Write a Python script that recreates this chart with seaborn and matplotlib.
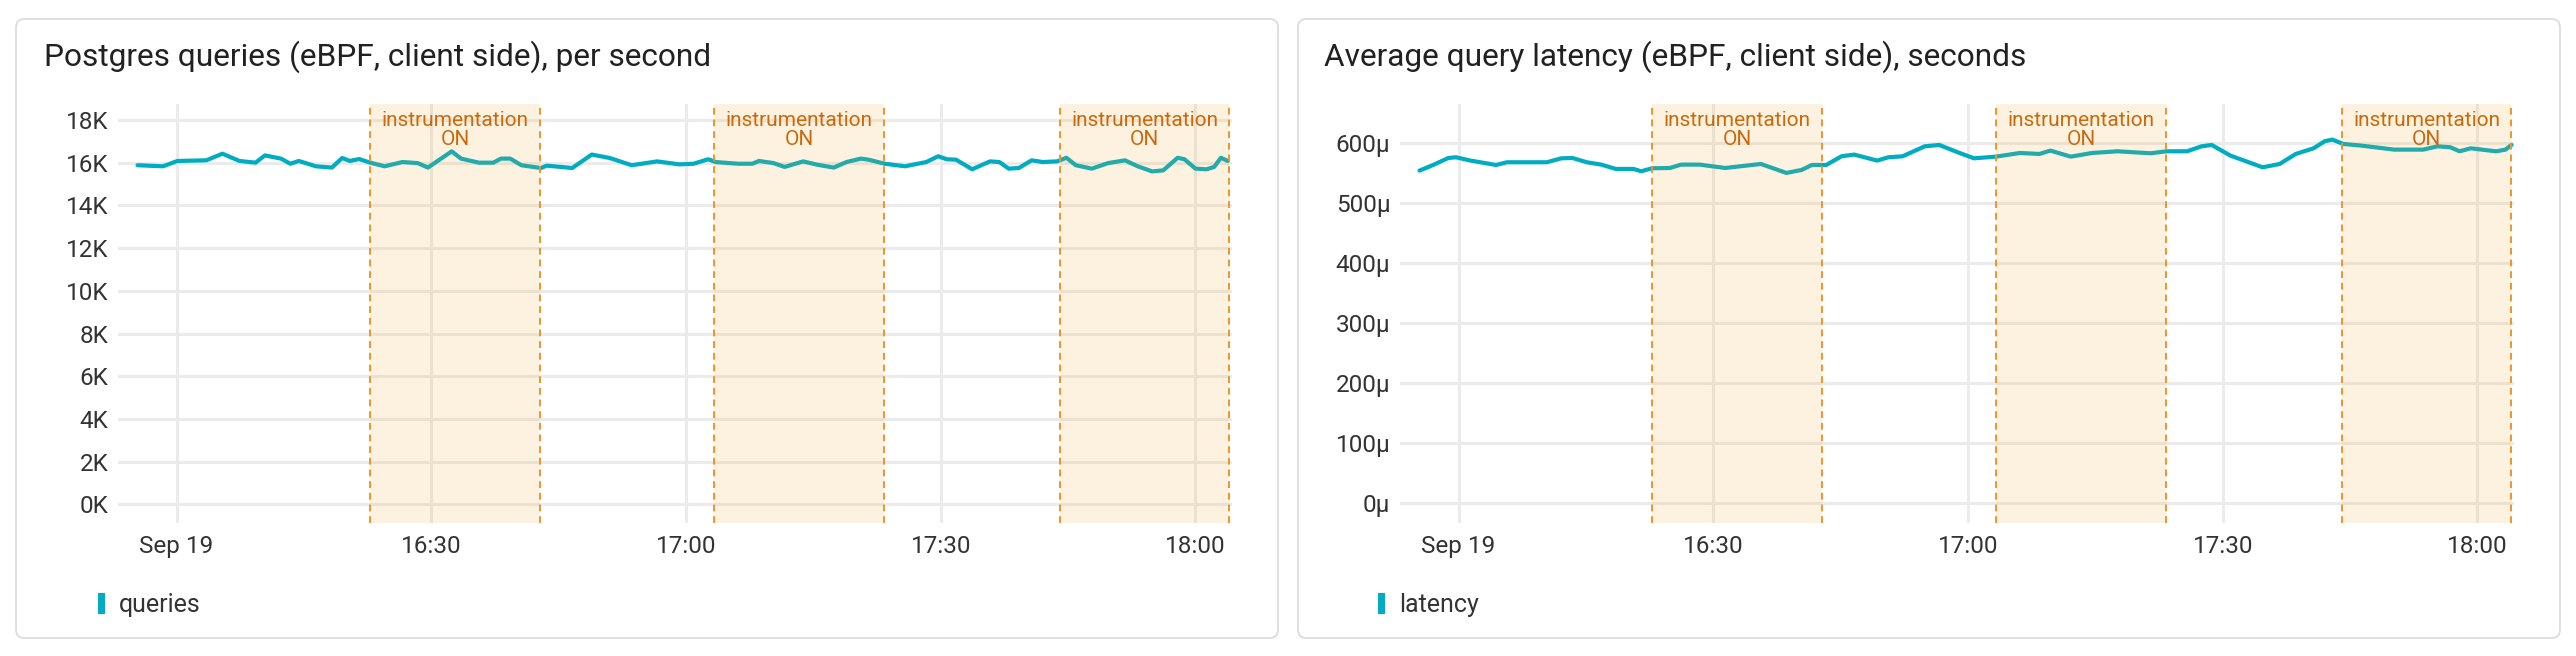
import matplotlib
matplotlib.use("Agg")
import matplotlib.pyplot as plt
import matplotlib.dates as mdates
import matplotlib.transforms as mtransforms
from matplotlib.patches import FancyBboxPatch, Patch
from matplotlib.ticker import FuncFormatter
import pandas as pd
import seaborn as sns

# minutes after 16:00 (Sep 19) and queries per second
q_minutes = [-4.6, -1.6, 0.1, 3.5, 5.4, 7.4, 9.3, 10.4, 12.3, 13.4, 14.4, 16.4, 18.3, 19.5,
             20.4, 21.5, 22.8, 24.5, 26.6, 28.4, 29.6, 32.4, 33.5, 35.6, 37.3, 38.2, 39.3,
             40.6, 42.9, 43.6, 46.6, 48.9, 51.0, 53.6, 56.6, 59.2, 60.9, 62.6, 63.5, 66.1,
             67.8, 68.6, 70.3, 71.6, 73.8, 75.5, 77.4, 78.9, 80.6, 81.5, 83.4, 85.8, 88.3,
             89.7, 90.7, 91.8, 93.7, 95.8, 96.9, 98.0, 99.2, 100.7, 102.0, 103.7, 104.8,
             105.9, 107.8, 109.7, 111.7, 113.2, 114.9, 116.2, 117.9, 118.7, 120.0, 121.3,
             122.2, 123.0, 123.8]
q_values = [15880, 15830, 16080, 16110, 16420, 16080, 16000, 16340, 16190, 15950, 16080,
            15830, 15770, 16220, 16080, 16170, 16000, 15830, 16030, 15980, 15770, 16530,
            16190, 16000, 16000, 16190, 16190, 15880, 15750, 15860, 15750, 16380, 16220,
            15880, 16060, 15920, 15950, 16160, 16030, 15950, 15950, 16080, 15980, 15800,
            16060, 15900, 15770, 16030, 16190, 16140, 15950, 15830, 16030, 16300, 16160,
            16140, 15690, 16060, 16030, 15720, 15750, 16110, 16030, 16060, 16230, 15880,
            15720, 15980, 16110, 15830, 15590, 15640, 16230, 16160, 15720, 15690, 15800,
            16230, 16080]

# minutes after 16:00 and average latency in microseconds
lat_minutes = [-4.6, -2.9, -1.2, -0.3, 1.4, 4.4, 5.7, 10.4, 12.1, 13.4, 15.1, 16.8, 18.5,
               20.6, 21.5, 22.8, 24.9, 26.2, 28.4, 31.4, 35.6, 38.6, 40.4, 41.6, 43.3, 45.1,
               46.6, 49.3, 50.6, 52.3, 54.9, 56.6, 58.8, 60.7, 63.3, 66.1, 68.4, 69.7, 72.1,
               74.6, 77.6, 81.5, 83.4, 85.8, 87.5, 88.7, 90.9, 94.7, 96.7, 98.6, 100.7,
               102.0, 102.9, 104.2, 106.3, 110.2, 113.6, 115.3, 116.8, 117.9, 119.2, 120.5,
               122.2, 123.3, 124.0]
lat_values = [553.9, 563.9, 575.0, 576.1, 570.6, 563.3, 567.8, 567.8, 574.4, 575.0, 567.8,
              563.9, 556.7, 556.7, 552.8, 557.8, 558.3, 563.9, 563.9, 558.3, 565.0, 550.0,
              555.0, 563.3, 563.3, 577.8, 580.6, 570.6, 576.1, 577.8, 594.4, 596.7, 584.4,
              574.4, 577.2, 583.3, 581.7, 587.2, 577.2, 583.3, 586.1, 582.8, 586.1, 586.1,
              594.4, 596.7, 578.9, 559.4, 565.0, 581.7, 591.1, 602.8, 605.6, 598.3, 595.6,
              588.9, 588.9, 594.4, 592.8, 586.1, 591.1, 588.9, 586.1, 588.9, 596.7]

instr_windows = [("16:22:50", "16:42:50"), ("17:03:20", "17:23:20"), ("17:44:00", "18:04:00")]
tick_times = ["16:00", "16:30", "17:00", "17:30", "18:00"]
tick_labels = ["Sep 19", "16:30", "17:00", "17:30", "18:00"]
day = "2023-09-19"

W, H = 2576, 656
TEAL = "#00acc1"
ORANGE = "#f5a623"
EDGE = "#f0932b"
TXT_OR = "#c96a0c"

sns.set_theme(style="white")
plt.rcParams['font.family'] = ['Roboto', 'DejaVu Sans']

base = pd.Timestamp(day + " 16:00")
df_q = pd.DataFrame({"time": base + pd.to_timedelta(q_minutes, unit="min"), "queries": q_values})
df_l = pd.DataFrame({"time": base + pd.to_timedelta(lat_minutes, unit="min"), "latency": lat_values})

fig = plt.figure(figsize=(W / 100, H / 100), dpi=100)

# cards behind the axes
for x0, x1 in [(16, 1278), (1298, 2560)]:
    card = FancyBboxPatch((x0 / W, 18 / H), (x1 - x0) / W, (637 - 18) / H,
                          boxstyle="round,pad=0,rounding_size=0.0032", mutation_aspect=W / H,
                          transform=fig.transFigure, facecolor="white", edgecolor="#dcdcdc",
                          linewidth=1.3, zorder=-5)
    fig.patches.append(card)


def panel(ax_rect, df, col, title, title_x, ylim, yticks, fmt, legend_x):
    ax = fig.add_axes(ax_rect)
    ax.patch.set_alpha(0)
    sns.lineplot(data=df, x="time", y=col, ax=ax, color=TEAL, linewidth=3.0, zorder=2, legend=False)
    ax.set_xlim(base + pd.Timedelta(minutes=-6.9), base + pd.Timedelta(minutes=124.3))
    ax.set_ylim(*ylim)
    ax.set_yticks(yticks)
    ax.yaxis.set_major_formatter(FuncFormatter(fmt))
    ax.set_xticks([pd.Timestamp(day + " " + t) for t in tick_times])
    ax.set_xticklabels(tick_labels)
    ax.set_xlabel("")
    ax.set_ylabel("")
    ax.grid(True, color="#ebebeb", linewidth=2.2)
    ax.set_axisbelow(True)
    for s in ax.spines.values():
        s.set_visible(False)
    ax.tick_params(length=0, labelsize=17.5, colors="#333333")
    ax.tick_params(axis="y", pad=7)
    ax.tick_params(axis="x", pad=9)

    trans = mtransforms.blended_transform_factory(ax.transData, ax.transAxes)
    for a, b in instr_windows:
        t0 = pd.Timestamp(day + " " + a)
        t1 = pd.Timestamp(day + " " + b)
        ax.axvspan(t0, t1, color=ORANGE, alpha=0.14, lw=0, zorder=3)
        for t in (t0, t1):
            ax.axvline(t, color=EDGE, lw=1.4, ls=(0, (3.5, 2.5)), zorder=4)
        mid = mdates.date2num(t0 + (t1 - t0) / 2)
        ax.text(mid, 0.983, "instrumentation\nON", transform=trans, ha="center", va="top",
                fontsize=15, color=TXT_OR, linespacing=1.05, zorder=5)

    fig.text(title_x / W, 1 - 57 / H, title, fontsize=22.8, color="#212121", va="center", ha="left")
    fig.legend(handles=[Patch(facecolor=TEAL, edgecolor="none", label=col)],
               loc="center left", bbox_to_anchor=(legend_x / W, 1 - 605 / H),
               bbox_transform=fig.transFigure, frameon=False, handlelength=0.28,
               handleheight=0.9, handletextpad=0.55, borderpad=0, borderaxespad=0,
               fontsize=18, labelcolor="#333333")
    return ax


panel([118 / W, 1 - 522.5 / H, 1114 / W, 419 / H], df_q, "queries",
      "Postgres queries (eBPF, client side), per second", 44,
      (-846, 18770), list(range(0, 18001, 2000)), lambda v, p: f"{v / 1000:.0f}K", 98)
panel([1400 / W, 1 - 522.5 / H, 1114 / W, 419 / H], df_l, "latency",
      "Average query latency (eBPF, client side), seconds", 1324,
      (-32.9, 665.8), list(range(0, 601, 100)), lambda v, p: f"{v:.0f}μ", 1378)

fig.savefig("out.png", dpi=100, facecolor="white")
